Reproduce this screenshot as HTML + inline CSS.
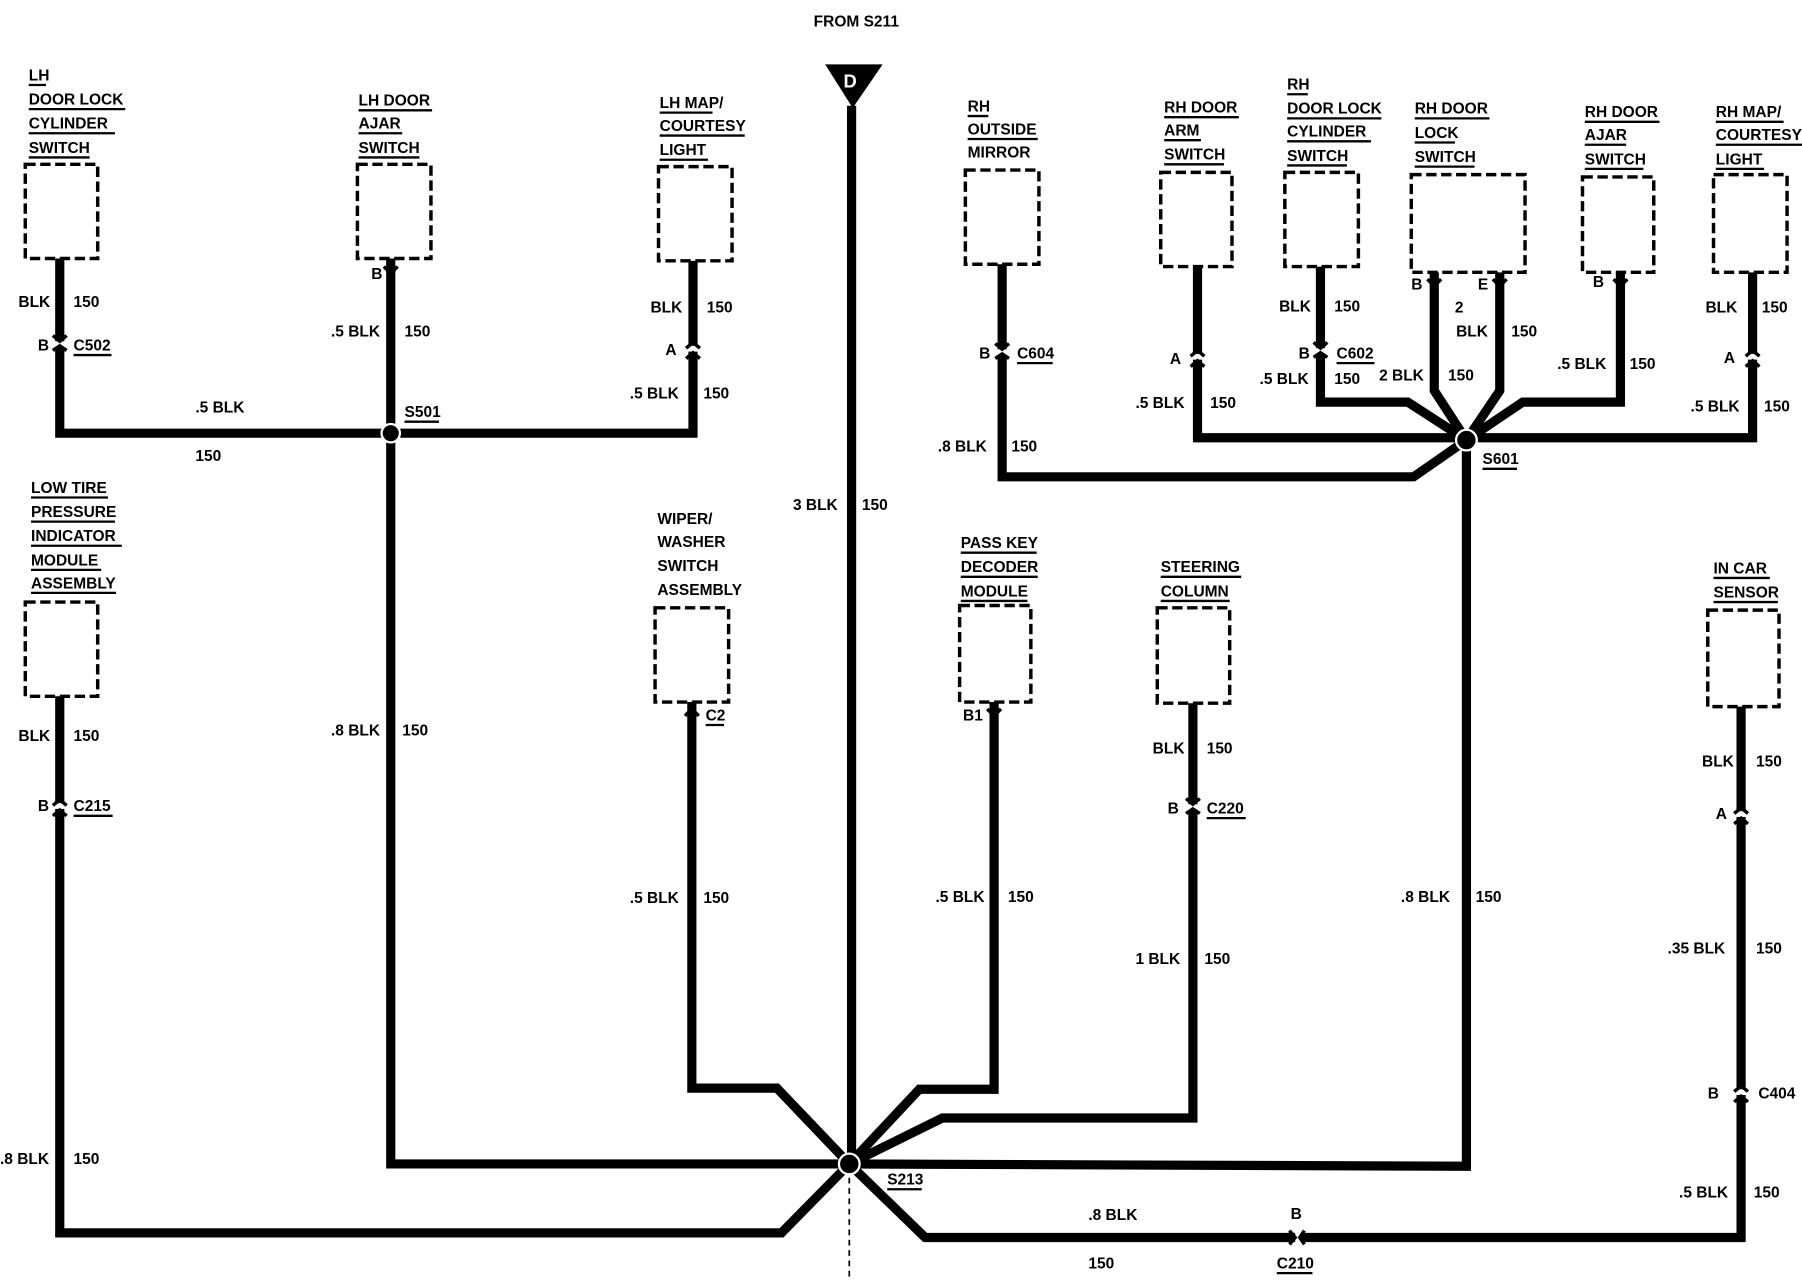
<!DOCTYPE html>
<html><head><meta charset="utf-8"><style>
html,body{margin:0;padding:0;background:#fff}
svg{display:block}
text{font-family:"Liberation Sans",sans-serif;font-weight:bold;font-size:13.5px;fill:#000}
.w{fill:none;stroke:#000;stroke-width:8;stroke-linejoin:miter}
.b{fill:none;stroke:#000;stroke-width:3;stroke-dasharray:9 4}
.u{stroke:#000;stroke-width:2}
</style></head><body>
<svg width="1802" height="1280" viewBox="0 0 1568 1114" preserveAspectRatio="none" xmlns="http://www.w3.org/2000/svg">
<rect width="1568" height="1114" fill="#fff"/>
<!-- header -->
<text x="708" y="23">FROM S211</text>
<polygon points="718,56 768,56 742,94" fill="#000"/>
<text x="734" y="76" style="fill:#fff;font-size:16px">D</text>

<!-- boxes -->
<rect class="b" x="22" y="143" width="63" height="82"/>
<rect class="b" x="311" y="143" width="64" height="82"/>
<rect class="b" x="573" y="145" width="64" height="82"/>
<rect class="b" x="840" y="148" width="64" height="82"/>
<rect class="b" x="1010" y="150" width="62" height="82"/>
<rect class="b" x="1118" y="150" width="64" height="82"/>
<rect class="b" x="1228" y="152" width="99" height="85"/>
<rect class="b" x="1377" y="154" width="62" height="83"/>
<rect class="b" x="1491" y="152" width="64" height="85"/>
<rect class="b" x="22" y="524" width="63" height="82"/>
<rect class="b" x="570" y="529" width="64" height="82"/>
<rect class="b" x="835" y="527" width="62" height="84"/>
<rect class="b" x="1007" y="529" width="63" height="83"/>
<rect class="b" x="1486" y="531" width="62" height="84"/>

<!-- component labels -->
<g>
<text x="25" y="70">LH</text><line class="u" x1="25" y1="74" x2="40" y2="74"/>
<text x="25" y="91">DOOR LOCK</text><line class="u" x1="25" y1="95" x2="109" y2="95"/>
<text x="25" y="112">CYLINDER</text><line class="u" x1="25" y1="116" x2="100" y2="116"/>
<text x="25" y="133">SWITCH</text><line class="u" x1="25" y1="137" x2="78" y2="137"/>

<text x="312" y="92">LH DOOR</text><line class="u" x1="312" y1="96" x2="376" y2="96"/>
<text x="312" y="112">AJAR</text><line class="u" x1="312" y1="116" x2="350" y2="116"/>
<text x="312" y="133">SWITCH</text><line class="u" x1="312" y1="137" x2="365" y2="137"/>

<text x="574" y="94">LH MAP/</text><line class="u" x1="574" y1="98" x2="620" y2="98"/>
<text x="574" y="114">COURTESY</text><line class="u" x1="574" y1="118" x2="648" y2="118"/>
<text x="574" y="135">LIGHT</text><line class="u" x1="574" y1="139" x2="616" y2="139"/>

<text x="842" y="97">RH</text><line class="u" x1="842" y1="101" x2="860" y2="101"/>
<text x="842" y="117">OUTSIDE</text><line class="u" x1="842" y1="121" x2="903" y2="121"/>
<text x="842" y="137">MIRROR</text>

<text x="1013" y="98">RH DOOR</text><line class="u" x1="1013" y1="102" x2="1078" y2="102"/>
<text x="1013" y="118">ARM</text><line class="u" x1="1013" y1="122" x2="1045" y2="122"/>
<text x="1013" y="139">SWITCH</text><line class="u" x1="1013" y1="143" x2="1065" y2="143"/>

<text x="1120" y="78">RH</text><line class="u" x1="1120" y1="82" x2="1138" y2="82"/>
<text x="1120" y="99">DOOR LOCK</text><line class="u" x1="1120" y1="103" x2="1202" y2="103"/>
<text x="1120" y="119">CYLINDER</text><line class="u" x1="1120" y1="123" x2="1193" y2="123"/>
<text x="1120" y="140">SWITCH</text><line class="u" x1="1120" y1="144" x2="1172" y2="144"/>

<text x="1231" y="99">RH DOOR</text><line class="u" x1="1231" y1="103" x2="1296" y2="103"/>
<text x="1231" y="120">LOCK</text><line class="u" x1="1231" y1="124" x2="1266" y2="124"/>
<text x="1231" y="141">SWITCH</text><line class="u" x1="1231" y1="145" x2="1283" y2="145"/>

<text x="1379" y="102">RH DOOR</text><line class="u" x1="1379" y1="106" x2="1444" y2="106"/>
<text x="1379" y="122">AJAR</text><line class="u" x1="1379" y1="126" x2="1415" y2="126"/>
<text x="1379" y="143">SWITCH</text><line class="u" x1="1379" y1="147" x2="1430" y2="147"/>

<text x="1493" y="102">RH MAP/</text><line class="u" x1="1493" y1="106" x2="1552" y2="106"/>
<text x="1493" y="122">COURTESY</text><line class="u" x1="1493" y1="126" x2="1568" y2="126"/>
<text x="1493" y="143">LIGHT</text><line class="u" x1="1493" y1="147" x2="1535" y2="147"/>

<text x="27" y="429">LOW TIRE</text><line class="u" x1="27" y1="433" x2="94" y2="433"/>
<text x="27" y="450">PRESSURE</text><line class="u" x1="27" y1="454" x2="100" y2="454"/>
<text x="27" y="471">INDICATOR</text><line class="u" x1="27" y1="475" x2="106" y2="475"/>
<text x="27" y="492">MODULE</text><line class="u" x1="27" y1="496" x2="88" y2="496"/>
<text x="27" y="512">ASSEMBLY</text><line class="u" x1="27" y1="516" x2="101" y2="516"/>

<text x="572" y="456">WIPER/</text>
<text x="572" y="476">WASHER</text>
<text x="572" y="497">SWITCH</text>
<text x="572" y="518">ASSEMBLY</text>

<text x="836" y="477">PASS KEY</text><line class="u" x1="836" y1="481" x2="902" y2="481"/>
<text x="836" y="498">DECODER</text><line class="u" x1="836" y1="502" x2="903" y2="502"/>
<text x="836" y="519">MODULE</text><line class="u" x1="836" y1="523" x2="894" y2="523"/>

<text x="1010" y="498">STEERING</text><line class="u" x1="1010" y1="502" x2="1080" y2="502"/>
<text x="1010" y="519">COLUMN</text><line class="u" x1="1010" y1="523" x2="1070" y2="523"/>

<text x="1491" y="499">IN CAR</text><line class="u" x1="1491" y1="503" x2="1540" y2="503"/>
<text x="1491" y="520">SENSOR</text><line class="u" x1="1491" y1="524" x2="1547" y2="524"/>
</g>

<!-- wires -->
<line class="w" x1="741" y1="92" x2="741" y2="1013"/>
<polyline class="w" points="52,225 52,377 603,377 603,227"/>
<polyline class="w" points="340,225 340,1013 739,1013"/>
<polyline class="w" points="52,606 52,1073 680,1073 739,1013"/>
<polyline class="w" points="602,611 602,947 676,947 739,1013"/>
<polyline class="w" points="865,611 865,948 800,948 739,1013"/>
<polyline class="w" points="1038,612 1038,973 820,973 739,1013"/>
<polyline class="w" points="739,1013 1276,1015 1276,383"/>
<polyline class="w" points="739,1013 805,1077 1515,1077 1515,615"/>
<line x1="739" y1="1025" x2="739" y2="1114" stroke="#000" stroke-width="1.5" stroke-dasharray="5 4"/>

<polyline class="w" points="872,230 872,415 1230,415 1276,383"/>
<polyline class="w" points="1042,232 1042,381 1525,381 1525,237"/>
<polyline class="w" points="1149,232 1149,350 1225,350 1276,383"/>
<polyline class="w" points="1248,237 1248,340 1276,383"/>
<polyline class="w" points="1305,237 1305,340 1276,383"/>
<polyline class="w" points="1410,237 1410,350 1325,350 1276,383"/>

<!-- splices -->
<circle cx="340" cy="377" r="8" fill="#000" stroke="#fff" stroke-width="2"/>
<circle cx="1276" cy="383" r="9" fill="#000" stroke="#fff" stroke-width="2"/>
<circle cx="739" cy="1013" r="9" fill="#000" stroke="#fff" stroke-width="2"/>

<!-- connectors (white gap + chevrons) -->
<g fill="none" stroke="#000" stroke-width="3">
<g transform="translate(52,300)"><rect x="-7" y="-3" width="14" height="5" fill="#fff" stroke="none"/><path d="M-6,-8 L0,-3 L6,-8 M-6,5 L0,1 L6,5"/></g>
<g transform="translate(603,304)"><rect x="-7" y="-3" width="14" height="5" fill="#fff" stroke="none"/><path d="M-6,-1 L0,-6 L6,-1 M-6,8 L0,3 L6,8"/></g>
<g transform="translate(872,307)"><rect x="-7" y="-3" width="14" height="5" fill="#fff" stroke="none"/><path d="M-6,-8 L0,-3 L6,-8 M-6,5 L0,1 L6,5"/></g>
<g transform="translate(1042,311)"><rect x="-7" y="-3" width="14" height="5" fill="#fff" stroke="none"/><path d="M-6,-1 L0,-6 L6,-1 M-6,8 L0,3 L6,8"/></g>
<g transform="translate(1149,306)"><rect x="-7" y="-3" width="14" height="5" fill="#fff" stroke="none"/><path d="M-6,-8 L0,-3 L6,-8 M-6,5 L0,1 L6,5"/></g>
<g transform="translate(1525,311)"><rect x="-7" y="-3" width="14" height="5" fill="#fff" stroke="none"/><path d="M-6,-1 L0,-6 L6,-1 M-6,8 L0,3 L6,8"/></g>
<g transform="translate(52,702)"><rect x="-7" y="-3" width="14" height="5" fill="#fff" stroke="none"/><path d="M-6,-1 L0,-6 L6,-1 M-6,8 L0,3 L6,8"/></g>
<g transform="translate(1038,703)"><rect x="-7" y="-3" width="14" height="5" fill="#fff" stroke="none"/><path d="M-6,-8 L0,-3 L6,-8 M-6,5 L0,1 L6,5"/></g>
<g transform="translate(1515,709)"><rect x="-7" y="-3" width="14" height="5" fill="#fff" stroke="none"/><path d="M-6,-1 L0,-6 L6,-1 M-6,8 L0,3 L6,8"/></g>
<g transform="translate(1515,951)"><rect x="-7" y="-3" width="14" height="5" fill="#fff" stroke="none"/><path d="M-6,-1 L0,-6 L6,-1 M-6,8 L0,3 L6,8"/></g>
<g transform="translate(1130,1077)"><rect x="-3" y="-7" width="5" height="14" fill="#fff" stroke="none"/><path d="M-8,-6 L-3,0 L-8,6 M5,-6 L1,0 L5,6"/></g>
<!-- top terminals -->
<path d="M334,232 L340,238 L346,232"/>
<path d="M1242,243 L1248,249 L1254,243"/>
<path d="M1299,243 L1305,249 L1311,243"/>
<path d="M1404,243 L1410,249 L1416,243"/>
<path d="M859,617 L865,623 L871,617"/>
<path d="M596,623 L602,617 L608,623"/>
</g>

<!-- wire labels -->
<text x="16" y="267">BLK</text><text x="64" y="267">150</text>
<text x="33" y="305">B</text><text x="64" y="305">C502</text><line class="u" x1="64" y1="309" x2="97" y2="309"/>
<text x="323" y="243">B</text>
<text x="288" y="293">.5 BLK</text><text x="352" y="293">150</text>
<text x="566" y="272">BLK</text><text x="615" y="272">150</text>
<text x="579" y="309">A</text>
<text x="548" y="347">.5 BLK</text><text x="612" y="347">150</text>
<text x="170" y="359">.5 BLK</text><text x="170" y="401">150</text>
<text x="352" y="363">S501</text><line class="u" x1="352" y1="367" x2="382" y2="367"/>
<text x="690" y="444">3 BLK</text><text x="750" y="444">150</text>
<text x="288" y="640">.8 BLK</text><text x="350" y="640">150</text>
<text x="16" y="645">BLK</text><text x="64" y="645">150</text>
<text x="33" y="706">B</text><text x="64" y="706">C215</text><line class="u" x1="64" y1="710" x2="98" y2="710"/>
<text x="0" y="1013">.8 BLK</text><text x="64" y="1013">150</text>
<text x="614" y="627">C2</text><line class="u" x1="614" y1="631" x2="630" y2="631"/>
<text x="548" y="786">.5 BLK</text><text x="612" y="786">150</text>
<text x="838" y="627">B1</text>
<text x="814" y="785">.5 BLK</text><text x="877" y="785">150</text>
<text x="1003" y="656">BLK</text><text x="1050" y="656">150</text>
<text x="1016" y="708">B</text><text x="1050" y="708">C220</text><line class="u" x1="1050" y1="712" x2="1084" y2="712"/>
<text x="988" y="839">1 BLK</text><text x="1048" y="839">150</text>
<text x="772" y="1031">S213</text><line class="u" x1="772" y1="1035" x2="802" y2="1035"/>
<text x="947" y="1062">.8 BLK</text><text x="947" y="1104">150</text>
<text x="1123" y="1061">B</text>
<text x="1111" y="1104">C210</text><line class="u" x1="1111" y1="1108" x2="1142" y2="1108"/>
<text x="1219" y="785">.8 BLK</text><text x="1284" y="785">150</text>
<text x="1481" y="667">BLK</text><text x="1528" y="667">150</text>
<text x="1493" y="713">A</text>
<text x="1451" y="830">.35 BLK</text><text x="1528" y="830">150</text>
<text x="1486" y="956">B</text><text x="1530" y="956">C404</text>
<text x="1461" y="1042">.5 BLK</text><text x="1526" y="1042">150</text>

<text x="852" y="312">B</text><text x="885" y="312">C604</text><line class="u" x1="885" y1="316" x2="916" y2="316"/>
<text x="816" y="393">.8 BLK</text><text x="880" y="393">150</text>
<text x="1018" y="317">A</text>
<text x="988" y="355">.5 BLK</text><text x="1053" y="355">150</text>
<text x="1113" y="271">BLK</text><text x="1161" y="271">150</text>
<text x="1130" y="312">B</text><text x="1163" y="312">C602</text><line class="u" x1="1163" y1="316" x2="1196" y2="316"/>
<text x="1096" y="334">.5 BLK</text><text x="1161" y="334">150</text>
<text x="1228" y="252">B</text><text x="1286" y="252">E</text>
<text x="1266" y="272">2</text>
<text x="1267" y="293">BLK</text><text x="1315" y="293">150</text>
<text x="1200" y="331">2 BLK</text><text x="1260" y="331">150</text>
<text x="1386" y="250">B</text>
<text x="1355" y="321">.5 BLK</text><text x="1418" y="321">150</text>
<text x="1484" y="272">BLK</text><text x="1533" y="272">150</text>
<text x="1500" y="316">A</text>
<text x="1471" y="358">.5 BLK</text><text x="1535" y="358">150</text>
<text x="1290" y="404">S601</text><line class="u" x1="1290" y1="408" x2="1320" y2="408"/>
</svg>
</body></html>
